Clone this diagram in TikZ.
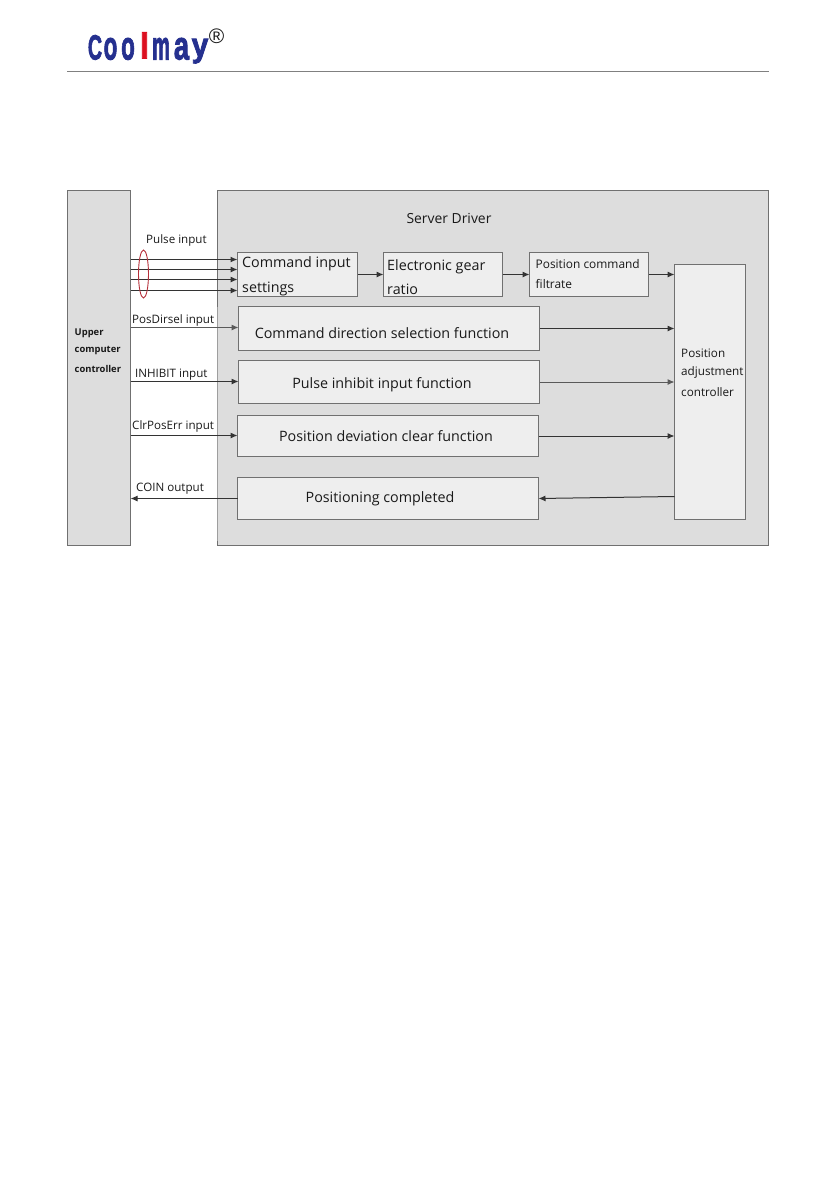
\documentclass[tikz,border=0pt]{standalone}
\usepackage{fontspec}
\setmainfont{Open Sans}
\newfontfamily\logofont[FakeBold=2.6]{Liberation Sans Bold}
\newfontfamily\regfont{Liberation Sans}
\usetikzlibrary{arrows.meta}
\definecolor{panel}{HTML}{DDDDDD}
\definecolor{inner}{HTML}{EEEEEE}
\definecolor{edge}{HTML}{707070}
\definecolor{logoblue}{HTML}{25308F}
\definecolor{logored}{HTML}{DC1020}
\definecolor{ringred}{HTML}{B5303A}
\newcommand{\boxat}[6][]{\node[#1, minimum width=#4-#2, minimum height=#5-#3] (#6) at ({(#2+#4)/2},{(#3+#5)/2}) {};}
\tikzset{
 x=1pt,y=-1pt,
 bigpanel/.style={draw=edge,line width=1pt,fill=panel,inner sep=0pt,outer sep=0pt},
 blockbox/.style={draw=edge,line width=1pt,fill=inner,inner sep=0pt,outer sep=0pt},
 lab/.style={inner sep=0pt,anchor=west,text=black!90},
 big/.style={lab,font=\fontsize{14.3}{16}\selectfont},
 mid/.style={lab,font=\fontsize{11.7}{13}\selectfont},
 sig/.style={lab,font=\fontsize{11.6}{13}\selectfont},
 upperlab/.style={lab,font=\bfseries\fontsize{9.4}{11}\selectfont},
 wire/.style={draw=black!80,line width=1pt,-{Latex[length=7pt,width=6pt]}},
 logol/.style={inner sep=0pt,anchor=base,font=\logofont\fontsize{40}{40}\selectfont,text=logoblue},
}
\begin{document}
\begin{tikzpicture}
\useasboundingbox (0,0) rectangle (839,1191);
% header
\node[logol,font=\logofont\fontsize{35}{35}\selectfont,xscale=0.56] (l1) at (95,59.5) {C};
\node[logol,xscale=0.56] (l2) at (110.5,59.5) {o};
\node[logol,xscale=0.56] (l3) at (128,59.5) {o};
\node[logol,font=\logofont\fontsize{36}{36}\selectfont,text=logored,xscale=0.9] (l4) at (144.5,58.5) {l};
\node[logol,xscale=0.5] (l5) at (161,59.5) {m};
\node[logol,xscale=0.68] (l6) at (181.5,59.5) {a};
\node[logol,font=\logofont\fontsize{35}{35}\selectfont,xscale=0.85,yscale=0.95] (l7) at (200,56.5) {y};
\node[inner sep=0pt,font=\regfont\fontsize{21}{21}\selectfont,text=black!90] (reg) at (216.5,36) {\textregistered};
\coordinate (hl) at (67,71.5);
\coordinate (hr) at (769,71.5);
\draw[draw=black!50,line width=1pt] (hl) -- (hr);
% panels
\boxat[bigpanel]{67.5}{190.5}{130.5}{545.5}{upper}
\boxat[bigpanel]{217.5}{190.5}{768.5}{545.5}{server}
\draw[draw=black!38,line width=1.2pt] (server.west |- 0,307) -- (server.west |- 0,541);
% blocks
\boxat[blockbox]{237.5}{252.5}{357.5}{296.5}{cmd}
\boxat[blockbox]{383.5}{252.5}{502.5}{296.5}{gear}
\boxat[blockbox]{529.5}{252.5}{648.5}{296.5}{filt}
\boxat[blockbox]{674.5}{264.5}{745.5}{519.5}{adj}
\boxat[blockbox]{238.5}{306.5}{539.5}{350.5}{dir}
\boxat[blockbox]{238.5}{360.5}{539.5}{403.5}{inh}
\boxat[blockbox]{237.5}{415.5}{538.5}{456.5}{clr}
\boxat[blockbox]{237.5}{477.5}{538.5}{519.5}{coin}
% wires
\foreach \n/\yy/\lw in {a/259.5/1.2,b/269.5/1,c/279.5/1,d/290.5/1}{
  \coordinate (s\n) at (upper.east |- 0,\yy);
  \coordinate (e\n) at (cmd.west |- 0,\yy);
  \draw[wire,line width=\lw pt] (s\n) -- (e\n);
}
\draw[wire] (cmd.east) -- (gear.west);
\draw[wire] (gear.east) -- (filt.west);
\draw[wire] (filt.east) -- (adj.west |- filt.east);
\draw[wire] (dir.east) -- (adj.west |- dir.east);
\draw[wire,draw=black!65] (inh.east) -- (adj.west |- inh.east);
\draw[wire] (clr.east) -- (adj.west |- clr.east);
\coordinate (adjout) at (adj.west |- 0,496.5);
\coordinate (coinin) at (coin.east |- 0,498.5);
\draw[wire] (adjout) -- (coinin);
\coordinate (u1) at (upper.east |- 0,327.5);
\draw[wire,draw=black!65] (u1) -- (dir.west |- u1);
\coordinate (u2) at (upper.east |- 0,381.5);
\draw[wire] (u2) -- (inh.west |- u2);
\coordinate (u3) at (upper.east |- 0,435.5);
\draw[wire] (u3) -- (clr.west |- u3);
\coordinate (c1) at (coin.west |- 0,498.5);
\draw[wire] (c1) -- (upper.east |- c1);
% ring
\draw[ringred,line width=0.9pt] (143.5,274) ellipse [x radius=5,y radius=24];
% texts
\node[big,anchor=center,font=\fontsize{13.9}{16}\selectfont] (t0) at (449,218) {Server Driver};
\node[big] (t1) at (242,264) {Command input};
\node[big] (t2) at (242,288.5) {settings};
\node[big] (t3) at (387,266.5) {Electronic gear};
\node[big] (t4) at (387,289.5) {ratio};
\node[mid,font=\fontsize{11.9}{13}\selectfont] (t5) at (535.5,264.5) {Position command};
\node[mid,font=\fontsize{11.9}{13}\selectfont] (t6) at (535.5,284) {filtrate};
\node[big,anchor=center] (t7) at (382,333) {Command direction selection function};
\node[big,anchor=center] (t8) at (382,384.5) {Pulse inhibit input function};
\node[big,anchor=center] (t9) at (386,436) {Position deviation clear function};
\node[big,anchor=center] (t10) at (380,498.5) {Positioning completed};
\node[mid] (t11) at (681,353) {Position};
\node[mid] (t12) at (681,372.5) {adjustment};
\node[mid] (t13) at (681,392) {controller};
\node[sig] (t14) at (146,240) {Pulse input};
\node[sig] (t15) at (132,320.5) {PosDirsel input};
\node[sig] (t16) at (135,375) {INHIBIT input};
\node[sig] (t17) at (132,426.5) {ClrPosErr input};
\node[sig] (t18) at (136,488.5) {COIN output};
\node[upperlab] (t19) at (74.5,333) {Upper};
\node[upperlab] (t20) at (74.5,351) {computer};
\node[upperlab] (t21) at (74.5,368.5) {controller};
\end{tikzpicture}
\end{document}
